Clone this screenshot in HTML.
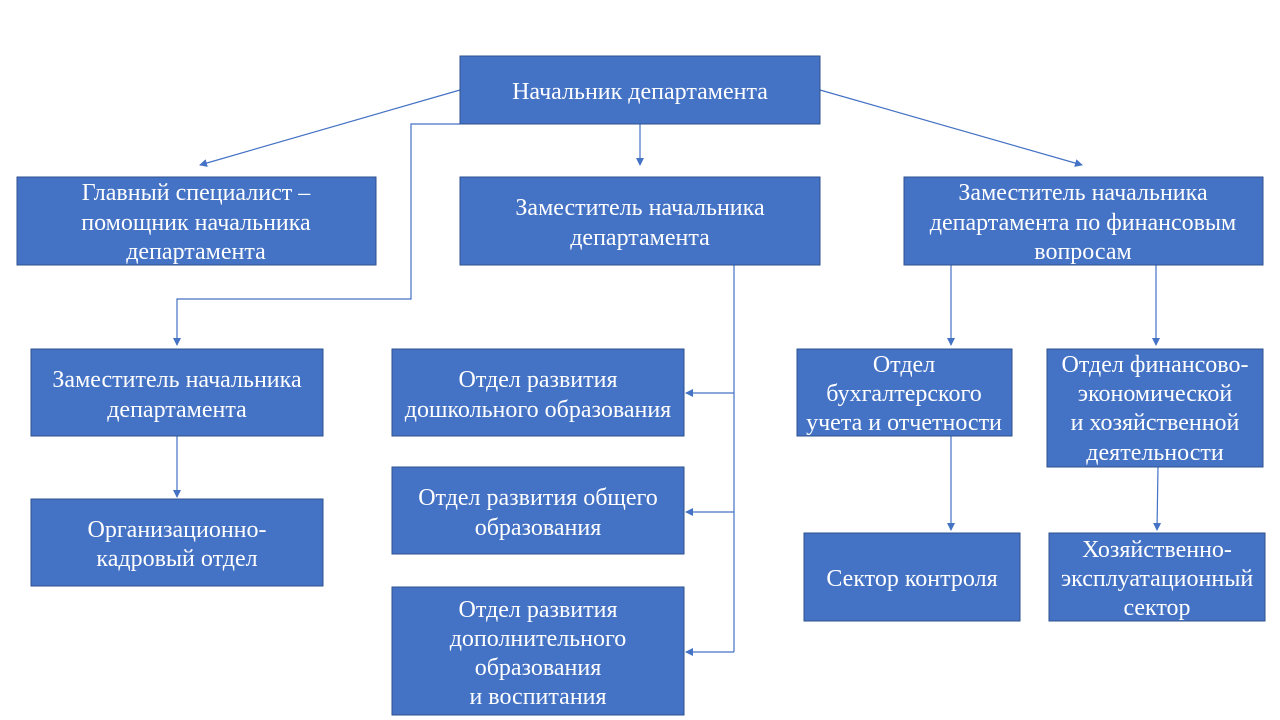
<!DOCTYPE html>
<html><head><meta charset="utf-8"><style>
html,body{margin:0;padding:0;background:#fff;}
svg{display:block;}
text{font-family:"Liberation Serif",serif;font-size:24px;fill:#fff;text-anchor:middle;}
rect{fill:#4472C4;stroke:#2F528F;stroke-width:1;}
.l{stroke:#4472C4;stroke-width:1.2;fill:none;}
</style></head><body>
<svg width="1280" height="720" viewBox="0 0 1280 720">
<defs><marker id="a" markerWidth="8" markerHeight="8" refX="7" refY="4" orient="auto" markerUnits="userSpaceOnUse"><path d="M0,0 L8,4 L0,8 z" fill="#4472C4"/></marker></defs>
<g class="l">
<line x1="460" y1="90" x2="200" y2="165" marker-end="url(#a)"/>
<line x1="820" y1="90" x2="1082" y2="165" marker-end="url(#a)"/>
<line x1="640" y1="124" x2="640" y2="165" marker-end="url(#a)"/>
<polyline points="460,124 411,124 411,299 177,299 177,345" marker-end="url(#a)"/>
<line x1="177" y1="436" x2="177" y2="497" marker-end="url(#a)"/>
<line x1="734" y1="265" x2="734" y2="652"/>
<line x1="734" y1="393" x2="686" y2="393" marker-end="url(#a)"/>
<line x1="734" y1="512" x2="686" y2="512" marker-end="url(#a)"/>
<line x1="734" y1="652" x2="686" y2="652" marker-end="url(#a)"/>
<line x1="951" y1="265" x2="951" y2="345" marker-end="url(#a)"/>
<line x1="1156" y1="265" x2="1156" y2="345" marker-end="url(#a)"/>
<line x1="951" y1="436" x2="951" y2="530" marker-end="url(#a)"/>
<line x1="1158" y1="467" x2="1157" y2="530" marker-end="url(#a)"/>
</g>
<rect x="460" y="56" width="360" height="68"/>
<text x="640" y="99">Начальник департамента</text>
<rect x="17" y="177" width="359" height="88"/>
<text x="196" y="200">Главный специалист –</text><text x="196" y="230">помощник начальника</text><text x="196" y="259">департамента</text>
<rect x="460" y="177" width="360" height="88"/>
<text x="640" y="215">Заместитель начальника</text><text x="640" y="245">департамента</text>
<rect x="904" y="177" width="359" height="88"/>
<text x="1083" y="200">Заместитель начальника</text><text x="1083" y="230">департамента по финансовым</text><text x="1083" y="259">вопросам</text>
<rect x="31" y="349" width="292" height="87"/>
<text x="177" y="387">Заместитель начальника</text><text x="177" y="417">департамента</text>
<rect x="31" y="499" width="292" height="87"/>
<text x="177" y="537">Организационно-</text><text x="177" y="566">кадровый отдел</text>
<rect x="392" y="349" width="292" height="87"/>
<text x="538" y="387">Отдел развития</text><text x="538" y="417">дошкольного образования</text>
<rect x="392" y="467" width="292" height="87"/>
<text x="538" y="505">Отдел развития общего</text><text x="538" y="535">образования</text>
<rect x="392" y="587" width="292" height="128"/>
<text x="538" y="617">Отдел развития</text><text x="538" y="646">дополнительного</text><text x="538" y="675">образования</text><text x="538" y="704">и воспитания</text>
<rect x="797" y="349" width="215" height="87"/>
<text x="904" y="372">Отдел</text><text x="904" y="401">бухгалтерского</text><text x="904" y="430">учета и отчетности</text>
<rect x="1047" y="349" width="216" height="118"/>
<text x="1155" y="372">Отдел финансово-</text><text x="1155" y="401">экономической</text><text x="1155" y="430">и хозяйственной</text><text x="1155" y="460">деятельности</text>
<rect x="804" y="533" width="216" height="88"/>
<text x="912" y="586">Сектор контроля</text>
<rect x="1049" y="533" width="216" height="88"/>
<text x="1157" y="557">Хозяйственно-</text><text x="1157" y="586">эксплуатационный</text><text x="1157" y="615">сектор</text>
</svg>
</body></html>
